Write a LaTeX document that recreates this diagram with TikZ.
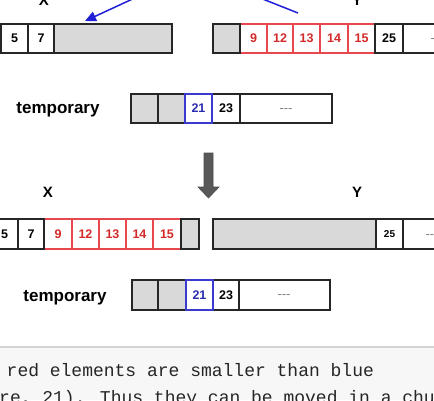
\documentclass[tikz,border=0pt]{standalone}
\usepackage{fontspec}
\setmainfont{Liberation Sans}
\newfontfamily\monof{Liberation Mono}
\usetikzlibrary{arrows.meta}
\definecolor{cellgray}{HTML}{D9D9D9}
\definecolor{redl}{HTML}{E8474F}
\definecolor{redt}{HTML}{D42A2A}
\definecolor{bluel}{HTML}{3A3AD0}
\definecolor{bluet}{HTML}{2B2BB0}
\definecolor{arrblue}{HTML}{1F1FD8}
\definecolor{sepline}{HTML}{D4D4D4}
\definecolor{botbg}{HTML}{F7F7F7}
\definecolor{darkarrow}{HTML}{585858}
\newcommand\mycell[7]{\node[#6, minimum width={((#3)-(#2))*1pt}, minimum height={((#5)-(#4))*1pt}] (#1) at (#2,#4) {#7};}
\newcommand\mydashes{-{}-{}-}
\tikzset{
  cellbase/.style={draw=black!85, line width=1.5pt, inner sep=0pt, outer sep=0pt, anchor=north west, fill=white, font=\bfseries\fontsize{12.5}{14}\selectfont},
  wcell/.style={cellbase},
  gcell/.style={cellbase, fill=cellgray},
  rcell/.style={cellbase, draw=redl, line width=1.1pt, text=redt},
  bcell/.style={cellbase, draw=bluel, text=bluet},
  dotst/.style={text=gray, inner sep=0pt, font=\fontsize{13}{14}\selectfont},
  lbl/.style={anchor=base, inner sep=0pt, font=\bfseries\fontsize{15}{17}\selectfont},
  tmp/.style={anchor=base, inner sep=0pt, font=\bfseries\fontsize{17}{19}\selectfont},
  mono/.style={anchor=base west, inner sep=0pt, text=black!85, font=\monof\fontsize{18}{20}\selectfont},
  barrow/.style={draw=arrblue, line width=1.5pt}
}
\begin{document}
\begin{tikzpicture}[x=1pt,y=-1pt]
\useasboundingbox (0,0) rectangle (434,400);
\clip (0,0) rectangle (434,400);
\fill[white] (0,0) rectangle (434,347);
\fill[botbg] (0,347) rectangle (434,400);
\draw[sepline, line width=1.5pt] (0,347) -- (434,347);

% top labels
\node[lbl] (lx1) at (44,5) {X};
\node[lbl] (ly1) at (357,5) {Y};

% row 1 X
\mycell{x1a}{1}{28}{24}{53}{wcell}{5}
\mycell{x1b}{28}{54}{24}{53}{wcell}{7}
\mycell{x1g}{54}{172}{24}{53}{gcell}{}

% row 1 Y
\mycell{y1c}{240}{267}{24}{53}{rcell}{9}
\mycell{y1d}{267}{293}{24}{53}{rcell}{12}
\mycell{y1e}{293}{320}{24}{53}{rcell}{13}
\mycell{y1f}{320}{348}{24}{53}{rcell}{14}
\mycell{y1h}{348}{375}{24}{53}{rcell}{15}
\mycell{y1g}{213}{240}{24}{53}{gcell}{}
\mycell{y1k}{375}{403}{24}{53}{wcell}{25}
\mycell{y1r}{403}{470}{24}{53}{wcell}{}
\node[dotst] (y1dots) at (437,40.5) {\mydashes};

% blue arrows
\coordinate (b1s) at (152,-10);
\coordinate (b1e) at (85,21);
\draw[barrow, -{Triangle[length=11pt,width=10pt]}] (b1s) -- (b1e);
\coordinate (b2s) at (240,-10);
\coordinate (b2e) at (298,13);
\draw[barrow] (b2s) -- (b2e);

% temporary 1
\node[tmp] (t1l) at (58,113) {temporary};
\mycell{t1a}{131}{158}{94}{123}{gcell}{}
\mycell{t1b}{158}{185}{94}{123}{gcell}{}
\mycell{t1d}{212}{240}{94}{123}{wcell}{23}
\mycell{t1e}{240}{332}{94}{123}{wcell}{}
\node[dotst] (t1dots) at (286,110.5) {\mydashes};
\mycell{t1c}{185}{212}{94}{123}{bcell}{21}

% down arrow
\draw[fill=darkarrow, draw=black!70, line width=0.6pt]
  (204,153) -- (213,153) -- (213,187) -- (219,187) -- (208.5,198) -- (198,187) -- (204,187) -- cycle;

% row 2 labels
\node[lbl] (lx2) at (48,197) {X};
\node[lbl] (ly2) at (357,197) {Y};

% row 2 X
\mycell{x2c}{44}{72}{219}{249}{rcell}{9}
\mycell{x2d}{72}{99}{219}{249}{rcell}{12}
\mycell{x2e}{99}{126}{219}{249}{rcell}{13}
\mycell{x2f}{126}{153}{219}{249}{rcell}{14}
\mycell{x2h}{153}{181}{219}{249}{rcell}{15}
\mycell{x2a}{-9}{18}{219}{249}{wcell}{5}
\mycell{x2b}{18}{44}{219}{249}{wcell}{7}
\mycell{x2g}{181}{199}{219}{249}{gcell}{}

% row 2 Y
\mycell{y2g}{213}{376}{219}{249}{gcell}{}
\mycell{y2k}{376}{403}{219}{249}{wcell, font=\bfseries\fontsize{10}{12}\selectfont}{25}
\mycell{y2r}{403}{470}{219}{249}{wcell}{}
\node[dotst] (y2dots) at (432,236.5) {\mydashes};

% temporary 2
\node[tmp] (t2l) at (65,301.5) {temporary};
\mycell{t2a}{132}{158}{280}{310}{gcell}{}
\mycell{t2b}{158}{186}{280}{310}{gcell}{}
\mycell{t2d}{213}{239}{280}{310}{wcell}{23}
\mycell{t2e}{239}{330}{280}{310}{wcell}{}
\node[dotst] (t2dots) at (284,297) {\mydashes};
\mycell{t2c}{186}{213}{280}{310}{bcell}{21}

% bottom text
\node[mono] (m1) at (6.5,376.5) {red elements are smaller than blue};
\node[mono] (m2) at (-1,403) {re, 21). Thus they can be moved in a chu};
\end{tikzpicture}
\end{document}
